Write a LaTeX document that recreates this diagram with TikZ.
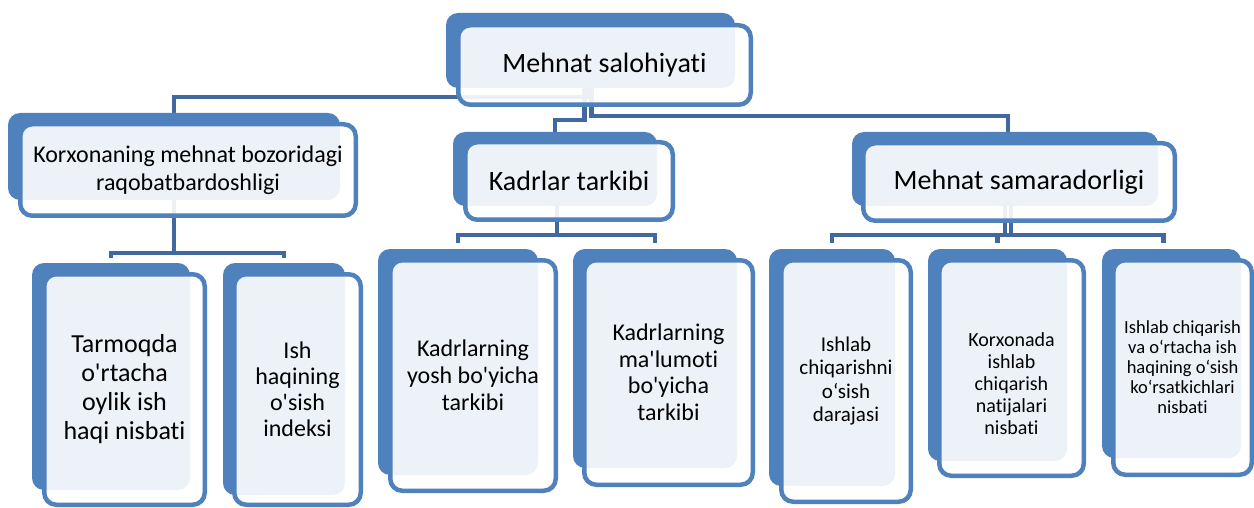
\documentclass[tikz,border=0pt]{standalone}
\usepackage{fontspec}
\setmainfont{Carlito}[Ligatures={TeXOff,CommonOff}]
\usepackage{xcolor}
\usepackage{tikz}
\usetikzlibrary{positioning, calc}
\pgfdeclarelayer{background}
\pgfsetlayers{background,main}

\definecolor{smblue}{HTML}{4F81BD}
\definecolor{lnblue}{HTML}{41699F}

\tikzset{
  backbox/.style={fill=smblue, rounded corners=12pt, inner sep=0pt},
  frontbox/.style={draw=smblue, line width=4.5pt, fill=white, fill opacity=0.9, text opacity=1, rounded corners=12pt, align=center, inner sep=0pt},
  conn/.style={draw=lnblue, line width=4.5pt},
}

\begin{document}
\begin{tikzpicture}[x=1pt, y=-1pt]
  \useasboundingbox (0,0) rectangle (1254,508);

  % back shapes
  \node[backbox, minimum width=289pt, minimum height=75pt] (msB) at (590.5,50.5) {};
  \node[backbox, minimum width=332pt, minimum height=87pt] (krB) at (174,156.5) {};
  \node[backbox, minimum width=204pt, minimum height=74pt] (ktB) at (555,169) {};
  \node[backbox, minimum width=306pt, minimum height=74pt] (samB) at (1005,169) {};
  \node[backbox, minimum width=158pt, minimum height=227pt] (t1B) at (111,376.5) {};
  \node[backbox, minimum width=122pt, minimum height=232pt] (t2B) at (284,379) {};
  \node[backbox, minimum width=160pt, minimum height=226pt] (k1B) at (458,362) {};
  \node[backbox, minimum width=164pt, minimum height=219pt] (k2B) at (655,358.5) {};
  \node[backbox, minimum width=126pt, minimum height=237pt] (s1B) at (832,367.5) {};
  \node[backbox, minimum width=139pt, minimum height=212pt] (s2B) at (997.5,355) {};
  \node[backbox, minimum width=139pt, minimum height=209pt] (s3B) at (1171.5,353.5) {};

  % front shapes
  \node[frontbox, minimum width=292.5pt, minimum height=79.5pt, font=\fontsize{28}{34}\selectfont] (ms) at (604.5,65) {Mehnat salohiyati};
  \node[frontbox, minimum width=335.5pt, minimum height=91.5pt, font=\fontsize{24}{28}\selectfont] (kr) at (188,170) {Korxonaning mehnat bozoridagi\\raqobatbardoshligi};
  \node[frontbox, minimum width=207.5pt, minimum height=77.5pt, font=\fontsize{28}{34}\selectfont] (kt) at (569,181) {Kadrlar tarkibi};
  \node[frontbox, minimum width=311.5pt, minimum height=77.5pt, font=\fontsize{28}{34}\selectfont] (sam) at (1019,182) {Mehnat samaradorligi};

  \node[frontbox, minimum width=160.5pt, minimum height=230.5pt, font=\fontsize{26}{29}\selectfont] (t1) at (124.5,389.5) {Tarmoqda\\o'rtacha\\oylik ish\\haqi nisbati};
  \node[frontbox, minimum width=126.5pt, minimum height=230.5pt, font=\fontsize{24}{26}\selectfont] (t2) at (297.5,389.5) {Ish\\haqining\\o'sish\\indeksi};
  \node[frontbox, minimum width=165.5pt, minimum height=230.5pt, font=\fontsize{24}{27}\selectfont] (k1) at (473,375.5) {Kadrlarning\\yosh bo'yicha\\tarkibi};
  \node[frontbox, minimum width=168.5pt, minimum height=224.5pt, font=\fontsize{24}{26.5}\selectfont] (k2) at (668.5,372.5) {Kadrlarning\\ma'lumoti\\bo'yicha\\tarkibi};
  \node[frontbox, minimum width=129.5pt, minimum height=241.5pt, font=\fontsize{21}{23.5}\selectfont] (s1) at (846,381) {Ishlab\\chiqarishni\\o‘sish\\darajasi};
  \node[frontbox, minimum width=144.5pt, minimum height=215.5pt] (s2) at (1011.5,368) {};
  \node[align=center, inner sep=0pt, font=\fontsize{20}{22}\selectfont] (s2t) at ([yshift=-16pt]s2.center) {Korxonada\\ishlab\\chiqarish\\natijalari\\nisbati};
  \node[frontbox, minimum width=138.5pt, minimum height=214.5pt, font=\fontsize{18.5}{20}\selectfont] (s3) at (1182.5,367.5) {Ishlab chiqarish\\va o‘rtacha ish\\haqining o‘sish\\ko‘rsatkichlari\\nisbati};

  % connectors
  \begin{pgfonlayer}{background}
    \draw[conn] ([xshift=-15pt]ms.center) -- ++(0,32) -| (krB.north);
    \draw[conn] ([xshift=-20pt]ms.center) -- ++(0,55) -| (ktB.north);
    \draw[conn] ([xshift=-13pt]ms.center) -- ++(0,51) -| ([xshift=3pt]samB.north);

    \draw[conn] (krB.center) -- ++(0,96.5) coordinate (krJ);
    \draw[conn] ([yshift=5pt]t1B.north) |- (krJ) -| ([yshift=5pt]t2B.north);

    \draw[conn] ([xshift=2pt]ktB.center) -- ++(0,66) coordinate (ktJ);
    \draw[conn] ([yshift=6pt]k1B.north) |- (ktJ) -| ([yshift=6pt]k2B.north);

    \draw[conn] (samB.center) -- ++(0,66) coordinate (samJ);
    \draw[conn] ([xshift=6pt]samB.center) -- ++(0,66);
    \draw[conn] ([yshift=6pt]s1B.north) |- (samJ) -| ([shift={(-8pt,6pt)}]s3B.north);
    \draw[conn] ([yshift=6pt]s2B.north) -- (s2B.north |- samJ);
  \end{pgfonlayer}
\end{tikzpicture}
\end{document}
